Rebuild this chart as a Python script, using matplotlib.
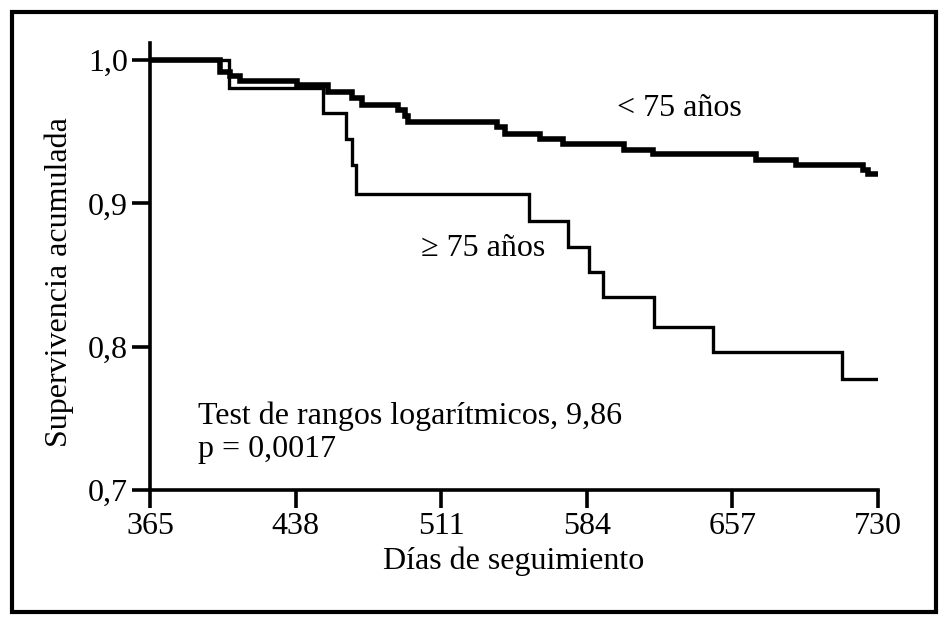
import matplotlib
matplotlib.use('Agg')
import matplotlib.pyplot as plt
from matplotlib.patches import Rectangle

# ── data ──
days_menor75 = [365, 400.1, 405.1, 410.1, 438.7, 454.2, 466.3, 471.3, 489.3, 492.8,
                494.4, 539.0, 543.0, 560.5, 572.1, 602.6, 617.2, 668.8, 688.9,
                722.5, 725.0, 730]
surv_menor75 = [1.0, 0.9916, 0.9888, 0.9853, 0.9826, 0.9777, 0.9735, 0.9686, 0.9651,
                0.9609, 0.9567, 0.9533, 0.9484, 0.9449, 0.9414, 0.9372, 0.9344,
                0.9302, 0.9267, 0.9233, 0.9205, 0.9205]

days_mayor75 = [365, 404.6, 451.7, 463.3, 466.3, 468.3, 555.0, 574.6, 585.1, 592.1,
                617.7, 647.3, 711.9, 729.5]
surv_mayor75 = [1.0, 0.9805, 0.963, 0.945, 0.927, 0.9065, 0.888, 0.8695, 0.852,
                0.8347, 0.8137, 0.7963, 0.7775, 0.7775]

x_ticks = [365, 438, 511, 584, 657, 730]
y_ticks = [0.7, 0.8, 0.9, 1.0]
y_tick_labels = ['0,7', '0,8', '0,9', '1,0']

plt.rcParams['font.family'] = ['Liberation Serif', 'DejaVu Serif']
FS = 23

fig = plt.figure(figsize=(9.46, 6.24), dpi=100)
ax = fig.add_axes([150 / 946, 1 - 490 / 624, 728 / 946, 447 / 624])

ax.plot(days_menor75, surv_menor75, drawstyle='steps-post', color='black',
        lw=4.0, solid_joinstyle='miter')
ax.plot(days_mayor75, surv_mayor75, drawstyle='steps-post', color='black',
        lw=2.4, solid_joinstyle='miter')

ax.set_xlim(365, 730)
ax.set_ylim(0.7, 1.0 + 17 * 0.3 / 430)
ax.set_xticks(x_ticks)
ax.set_xticklabels([str(t) for t in x_ticks])
ax.set_yticks(y_ticks)
ax.set_yticklabels(y_tick_labels)

for side in ['top', 'right']:
    ax.spines[side].set_visible(False)
for side in ['left', 'bottom']:
    ax.spines[side].set_linewidth(2.6)
ax.tick_params(direction='out', length=13, width=2.6, labelsize=FS, pad=3)

ax.set_xlabel('Días de seguimiento', fontsize=FS, labelpad=4)
ax.set_ylabel('Supervivencia acumulada', fontsize=FS)
ax.yaxis.set_label_coords(-76 / 728, (490 - 282) / 447)

ax.text(617 / 946, 1 - 108 / 624, '< 75 años', transform=fig.transFigure,
        fontsize=FS, ha='left', va='center')
ax.text(421 / 946, 1 - 249 / 624, '≥ 75 años', transform=fig.transFigure,
        fontsize=FS, ha='left', va='center')
ax.text(198 / 946, 1 - 433 / 624, 'Test de rangos logarítmicos, 9,86\np = 0,0017',
        transform=fig.transFigure, fontsize=FS, ha='left', va='center',
        linespacing=1.2)

# outer frame
fig.patches.append(Rectangle((12 / 946, 1 - 612 / 624), 924 / 946, 600 / 624,
                             transform=fig.transFigure, fill=False,
                             edgecolor='black', lw=3.0))

fig.savefig('out.png', dpi=100)
